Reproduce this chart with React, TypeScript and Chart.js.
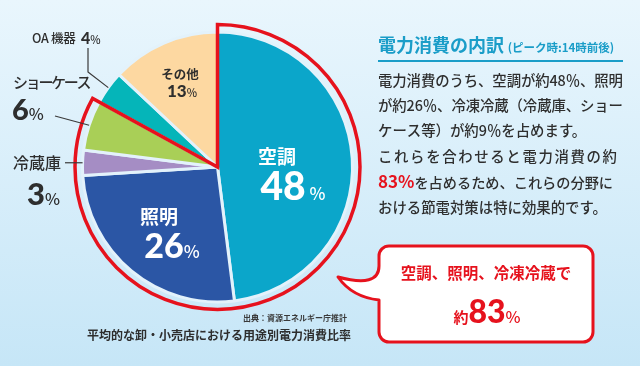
import { useEffect, useRef } from "react";
import { Chart, registerables } from "chart.js";

Chart.register(...registerables);

// ---------- data ----------
const categories = ["空調", "照明", "冷蔵庫", "ショーケース", "OA 機器", "その他"];
const shares = [48, 26, 3, 6, 4, 13];
const sliceColors = ["#0ba6ca", "#2b56a5", "#a58dc4", "#a9cf57", "#05b5b9", "#fdd8a1"];
const highlightedSlices = 4; // 空調 + 照明 + 冷蔵庫 + ショーケース
const highlightTotal = shares.slice(0, highlightedSlices).reduce((a, b) => a + b, 0);

const titleText = "電力消費の内訳";
const titleNote = "(ピーク時:14時前後)";
const bodyLines = [
  "電力消費のうち、空調が約48％、照明",
  "が約26％、冷凍冷蔵（冷蔵庫、ショー",
  "ケース等）が約9％を占めます。",
  "これらを合わせると電力消費の約",
  "を占めるため、これらの分野に",
  "おける節電対策は特に効果的です。",
];
const sourceNote = "出典：資源エネルギー庁推計";
const caption = "平均的な卸・小売店における用途別電力消費比率";
const calloutLine = "空調、照明、冷凍冷蔵で";
const calloutPrefix = "約";

// ---------- styles ----------
const JP = "'Noto Sans CJK JP', 'Noto Sans', sans-serif";
const NUM = "Lato, 'Noto Sans CJK JP', sans-serif";
const RED = "#e6121d";
const TEAL = "#1a9dc8";
const INK = "#2e2e2e";

type Run = { text: string; size: number; weight?: number; color: string; ls?: number; num?: boolean };

function runFont(r: Run) {
  return `${r.weight ?? 500} ${r.size}px ${r.num ? NUM : JP}`;
}

function drawRuns(
  ctx: CanvasRenderingContext2D,
  runs: Run[],
  x: number,
  y: number,
  align: "left" | "center" | "right",
  baseline: CanvasTextBaseline = "alphabetic"
) {
  const widths = runs.map((r) => {
    ctx.font = runFont(r);
    (ctx as any).letterSpacing = `${r.ls ?? 0}px`;
    return ctx.measureText(r.text).width;
  });
  const total = widths.reduce((a, b) => a + b, 0);
  let cx = align === "left" ? x : align === "center" ? x - total / 2 : x - total;
  ctx.textAlign = "left";
  ctx.textBaseline = baseline;
  runs.forEach((r, i) => {
    ctx.font = runFont(r);
    (ctx as any).letterSpacing = `${r.ls ?? 0}px`;
    ctx.fillStyle = r.color;
    ctx.fillText(r.text, cx, y);
    cx += widths[i];
  });
  (ctx as any).letterSpacing = "0px";
}

function drawJustified(
  ctx: CanvasRenderingContext2D,
  text: string,
  x: number,
  y: number,
  size: number,
  color: string,
  targetEnd: number | null
) {
  ctx.font = `500 ${size}px ${JP}`;
  (ctx as any).letterSpacing = "0px";
  let ls = 0;
  if (targetEnd !== null) {
    const w = ctx.measureText(text).width;
    const n = [...text].length;
    ls = (targetEnd - x - w) / Math.max(n - 1, 1);
  }
  drawRuns(ctx, [{ text, size, color, ls }], x, y, "left", "middle");
}

const decorPlugin = {
  id: "decor",
  beforeDraw(chart: any) {
    const { ctx, width, height } = chart;
    const g = ctx.createLinearGradient(0, 0, 0, height);
    g.addColorStop(0, "#e9f6fd");
    g.addColorStop(1, "#c6e6f7");
    ctx.save();
    ctx.fillStyle = g;
    ctx.fillRect(0, 0, width, height);
    ctx.restore();
  },
  afterDatasetsDraw(chart: any) {
    const ctx: CanvasRenderingContext2D = chart.ctx;
    const meta = chart.getDatasetMeta(0);
    const arcs = meta.data as any[];
    const first = arcs[0];
    const last = arcs[highlightedSlices - 1];
    const cx = first.x;
    const cy = first.y;
    const R = first.outerRadius;

    ctx.save();

    // red outline around highlighted slices
    const Rr = R + 7.5;
    ctx.beginPath();
    ctx.moveTo(cx, cy);
    ctx.lineTo(cx + Rr * Math.cos(first.startAngle), cy + Rr * Math.sin(first.startAngle));
    ctx.arc(cx, cy, Rr, first.startAngle, last.endAngle);
    ctx.closePath();
    ctx.strokeStyle = RED;
    ctx.lineWidth = 3.5;
    ctx.lineJoin = "miter";
    ctx.stroke();

    // leader lines to outer edge at mid-angle of small slices
    const edge = (i: number) => {
      const a = (arcs[i].startAngle + arcs[i].endAngle) / 2;
      return [cx + R * Math.cos(a), cy + R * Math.sin(a)];
    };
    ctx.strokeStyle = "#3a3a3a";
    ctx.lineWidth = 1.2;
    ctx.lineJoin = "round";
    // OA 機器
    let e = edge(4);
    ctx.beginPath();
    ctx.moveTo(88, 48);
    ctx.lineTo(88, 72);
    ctx.lineTo(e[0], e[1]);
    ctx.stroke();
    // ショーケース
    e = edge(3);
    ctx.beginPath();
    ctx.moveTo(55, 116);
    ctx.lineTo(e[0], e[1]);
    ctx.stroke();
    // 冷蔵庫
    e = edge(2);
    ctx.beginPath();
    ctx.moveTo(65, e[1]);
    ctx.lineTo(e[0], e[1]);
    ctx.stroke();

    // inside labels
    drawRuns(ctx, [{ text: categories[0], size: 19, weight: 700, color: "#ffffff" }], 277, 157, "center", "middle");
    drawRuns(
      ctx,
      [
        { text: String(shares[0]), size: 39, weight: 900, color: "#ffffff", num: true },
        { text: " %", size: 17, weight: 500, color: "#ffffff" },
      ],
      293,
      200,
      "center"
    );
    drawRuns(ctx, [{ text: categories[1], size: 19, weight: 700, color: "#ffffff" }], 159, 217, "center", "middle");
    drawRuns(
      ctx,
      [
        { text: String(shares[1]), size: 34, weight: 900, color: "#ffffff", num: true },
        { text: "%", size: 17, weight: 500, color: "#ffffff" },
      ],
      172,
      258,
      "center"
    );
    drawRuns(ctx, [{ text: categories[5], size: 12.5, weight: 700, color: INK }], 180, 74, "center", "middle");
    drawRuns(
      ctx,
      [
        { text: String(shares[5]), size: 17, weight: 900, color: INK, num: true },
        { text: "%", size: 11, weight: 500, color: INK },
      ],
      182,
      97,
      "center"
    );

    // outside labels
    drawRuns(ctx, [{ text: categories[4], size: 12.5, weight: 500, color: INK, ls: -0.3 }], 32, 38, "left", "middle");
    drawRuns(
      ctx,
      [
        { text: String(shares[4]), size: 16, weight: 900, color: INK, num: true },
        { text: "%", size: 11, weight: 500, color: INK },
      ],
      81,
      43.5,
      "left"
    );
    drawRuns(ctx, [{ text: categories[3], size: 15, weight: 500, color: INK, ls: -2.3 }], 13, 82, "left", "middle");
    drawRuns(
      ctx,
      [
        { text: String(shares[3]), size: 29, weight: 900, color: INK, num: true },
        { text: "%", size: 16, weight: 500, color: INK },
      ],
      12,
      120,
      "left"
    );
    drawRuns(ctx, [{ text: categories[2], size: 16, weight: 500, color: INK }], 13, 163, "left", "middle");
    drawRuns(
      ctx,
      [
        { text: String(shares[2]), size: 31, weight: 900, color: INK, num: true },
        { text: "%", size: 16, weight: 500, color: INK },
      ],
      27,
      205,
      "left"
    );

    // source & caption
    drawRuns(ctx, [{ text: sourceNote, size: 8, weight: 700, color: "#3a3a3a" }], 347, 318, "right", "middle");
    drawRuns(ctx, [{ text: caption, size: 12, weight: 700, color: INK }], 87, 335, "left", "middle");

    // right side title
    drawRuns(
      ctx,
      [
        { text: titleText, size: 18, weight: 700, color: TEAL },
        { text: "  ", size: 8, weight: 700, color: TEAL },
        { text: titleNote, size: 11.5, weight: 700, color: TEAL },
      ],
      378,
      52,
      "left"
    );
    ctx.strokeStyle = TEAL;
    ctx.lineWidth = 2;
    ctx.beginPath();
    ctx.moveTo(378, 61);
    ctx.lineTo(623, 61);
    ctx.stroke();

    // body
    const lineY = [80.5, 106, 131, 156.5, 181.5, 207.5];
    const lineEnds: (number | null)[] = [623, 623, null, 617, null, null];
    bodyLines.forEach((t, i) => {
      if (i === 4) {
        drawRuns(
          ctx,
          [
            { text: `${highlightTotal}%`, size: 17, weight: 700, color: RED },
            { text: t, size: 14.2, weight: 500, color: INK },
          ],
          378,
          lineY[i] + 6,
          "left"
        );
      } else {
        drawJustified(ctx, t, 378, lineY[i], 14.4, INK, lineEnds[i]);
      }
    });

    // callout box with tail
    const x0 = 379, y0 = 246, x1 = 593, y1 = 342, r = 10;
    ctx.beginPath();
    ctx.moveTo(x0 + r, y0);
    ctx.lineTo(x1 - r, y0);
    ctx.arcTo(x1, y0, x1, y0 + r, r);
    ctx.lineTo(x1, y1 - r);
    ctx.arcTo(x1, y1, x1 - r, y1, r);
    ctx.lineTo(x0 + r, y1);
    ctx.arcTo(x0, y1, x0, y1 - r, r);
    ctx.lineTo(x0, 300);
    ctx.quadraticCurveTo(352, 297, 338, 277);
    ctx.quadraticCurveTo(379, 288, x0, 266);
    ctx.lineTo(x0, y0 + r);
    ctx.arcTo(x0, y0, x0 + r, y0, r);
    ctx.closePath();
    ctx.fillStyle = "#ffffff";
    ctx.fill();
    ctx.strokeStyle = RED;
    ctx.lineWidth = 3;
    ctx.lineJoin = "round";
    ctx.stroke();

    drawRuns(ctx, [{ text: calloutLine, size: 15.5, weight: 700, color: RED }], 486, 273, "center", "middle");
    drawRuns(
      ctx,
      [
        { text: calloutPrefix, size: 15, weight: 700, color: RED },
        { text: String(highlightTotal), size: 32, weight: 900, color: RED, num: true },
        { text: "%", size: 16, weight: 500, color: RED },
      ],
      487,
      323,
      "center"
    );

    ctx.restore();
  },
};

export default function App() {
  const ref = useRef<HTMLCanvasElement>(null);

  useEffect(() => {
    document.body.style.margin = "0";
    const canvas = ref.current;
    if (!canvas) return;
    const chart = new Chart(canvas, {
      type: "pie",
      data: {
        labels: categories,
        datasets: [
          {
            data: shares,
            backgroundColor: sliceColors,
            borderColor: "#e3f2fb",
            borderWidth: 3,
            hoverBorderWidth: 3,
            hoverOffset: 0,
          },
        ],
      },
      options: {
        animation: false,
        responsive: false,
        events: [],
        layout: { padding: { left: 81, right: 286, top: 30.5, bottom: 62.5 } },
        plugins: {
          legend: { display: false },
          tooltip: { enabled: false },
        },
      },
      plugins: [decorPlugin],
    });
    return () => chart.destroy();
  }, []);

  return (
    <div style={{ position: "fixed", left: 0, top: 0, width: 640, height: 366 }}>
      <canvas ref={ref} width={640} height={366} style={{ width: 640, height: 366, display: "block" }} />
    </div>
  );
}
